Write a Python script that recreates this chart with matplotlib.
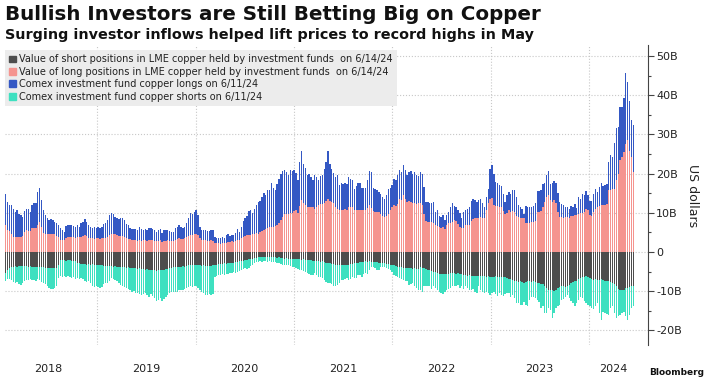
import matplotlib
matplotlib.use("Agg")
import matplotlib.pyplot as plt
from matplotlib.patches import Patch
from matplotlib.ticker import FuncFormatter, MultipleLocator
import numpy as np
import pandas as pd

# weekly readings, billions of US dollars (Jan 2018 - Jun 14 2024)
total_longs = [
    14.7, 12.8, 12.0, 12.0, 11.0, 10.3, 10.7, 9.8, 9.4, 9.0, 10.4, 11.1, 11.1, 10.3, 12.0, 12.5, 12.5, 15.3, 16.4, 13.2,
    10.7, 9.4, 8.6, 8.1, 8.3, 8.1, 7.7, 7.5, 6.9, 6.0, 5.6, 5.2, 6.6, 6.9, 7.0, 6.9, 6.6, 6.4, 6.9, 6.4,
    7.5, 7.7, 8.3, 7.7, 7.0, 6.4, 6.2, 6.4, 6.0, 6.3, 6.0, 6.3, 7.1,
    7.3, 8.1, 9.4, 10.0, 9.8, 9.0, 8.6, 8.3, 8.6, 8.7, 8.1, 7.1, 6.9, 6.0, 5.8, 5.8, 5.8, 5.6, 6.3, 5.8,
    5.7, 5.8, 5.6, 6.2, 6.0, 5.9, 5.6, 5.2, 5.6, 5.8, 4.9, 5.5, 5.6, 5.6, 5.4, 5.2, 5.2, 6.0, 6.4, 7.0,
    6.4, 6.0, 6.4, 7.3, 8.6, 10.0, 9.8, 10.3, 10.8, 9.4, 6.4, 5.6, 5.6, 5.6, 5.4, 5.3,
    5.6, 5.6, 3.9, 3.7, 3.5, 3.5, 3.9, 3.7, 4.3, 4.6, 4.1, 4.3, 4.3, 4.9, 5.8, 5.2, 6.4, 8.0, 8.8, 9.2,
    10.5, 10.8, 10.0, 11.1, 11.9, 12.8, 13.1, 14.1, 15.1, 14.5, 15.8, 15.8, 17.5, 16.4, 15.9, 17.3, 18.7, 20.0, 20.7, 20.8,
    20.4, 19.6, 21.0, 20.7, 20.8, 20.2, 18.5, 23.0, 25.8, 22.5, 21.5, 19.6, 19.8, 19.2, 18.3,
    19.6, 19.2, 18.3, 19.3, 19.6, 21.3, 23.0, 25.8, 22.5, 21.3, 20.2, 19.2, 19.6, 17.0, 17.5, 17.3, 17.5, 17.3, 19.2, 18.7,
    18.3, 16.2, 16.8, 17.5, 17.6, 16.4, 16.4, 16.4, 18.3, 20.7, 20.4, 16.4, 16.2, 15.9, 15.3, 14.7, 14.1, 13.4, 14.5, 16.2,
    16.4, 17.0, 18.7, 18.3, 19.6, 20.8, 20.4, 22.1, 21.0, 19.6, 20.4, 20.7, 20.0, 20.4, 19.6, 19.3,
    20.4, 20.0, 16.6, 12.8, 12.8, 12.4, 12.6, 12.8, 10.3, 10.7, 9.2, 9.0, 9.4, 8.1, 9.4, 10.3, 11.4, 12.5, 11.7, 11.4,
    10.7, 10.0, 8.8, 10.3, 10.7, 11.1, 11.4, 13.1, 13.6, 13.2, 12.8, 13.2, 13.6, 12.4, 11.5, 14.1, 16.2, 21.3, 22.1, 20.0,
    17.9, 17.5, 17.0, 16.8, 14.9, 12.8, 14.5, 15.3, 14.9, 15.8, 15.8, 14.1, 11.9, 11.5, 11.1, 9.8,
    11.7, 11.5, 11.5, 11.5, 11.8, 12.4, 15.6, 15.6, 15.9, 17.3, 17.6, 19.6, 20.7, 17.3, 17.6, 18.1, 17.6, 15.1, 12.8, 12.2,
    11.9, 11.5, 11.5, 11.1, 11.7, 11.5, 12.2, 11.3, 14.1, 13.6, 14.7, 14.5, 15.6, 14.5, 13.1, 13.0, 14.9, 16.2, 15.3, 16.6,
    17.6, 16.8, 17.0, 17.3, 23.0, 24.7, 24.2, 27.8, 31.7, 31.9, 36.9, 36.9, 39.3, 45.6, 43.3, 38.5, 33.7, 32.5,
]

lme_longs = [
    6.9, 5.6, 5.4, 4.6, 3.9, 3.9, 3.8, 3.9, 3.9, 4.0, 5.2, 5.5, 5.4, 5.3, 6.0, 6.1, 6.2, 6.8, 7.7, 6.4,
    4.9, 4.7, 4.6, 4.6, 4.5, 4.5, 4.5, 4.2, 3.8, 3.1, 3.0, 3.0, 3.7, 3.9, 3.8, 3.9, 3.8, 3.7, 3.9, 3.8,
    3.9, 4.0, 4.3, 4.1, 3.7, 3.5, 3.5, 3.4, 3.5, 3.5, 3.4, 3.5, 3.6,
    3.6, 3.9, 4.3, 4.6, 4.6, 4.5, 4.3, 4.2, 4.1, 4.0, 3.9, 3.6, 3.4, 3.2, 3.0, 3.0, 3.0, 2.9, 3.0, 2.9,
    3.0, 3.0, 2.9, 3.1, 3.0, 3.0, 2.9, 2.8, 2.9, 3.0, 2.6, 2.8, 2.9, 3.0, 2.9, 2.8, 2.8, 3.1, 3.4, 3.6,
    3.4, 3.3, 3.5, 3.8, 4.2, 4.4, 4.3, 4.5, 4.6, 4.3, 3.6, 3.1, 3.0, 3.0, 2.9, 2.9,
    3.0, 2.9, 2.3, 2.2, 2.2, 2.1, 2.3, 2.2, 2.4, 2.6, 2.5, 2.7, 2.6, 2.8, 3.0, 3.1, 3.5, 3.9, 4.2, 4.3,
    4.4, 4.3, 4.6, 4.7, 4.8, 4.7, 5.0, 5.4, 5.6, 5.8, 6.2, 6.4, 6.5, 6.4, 6.6, 6.9, 7.4, 8.1, 8.9, 9.6,
    9.8, 9.7, 9.9, 10.0, 10.5, 10.7, 10.0, 11.8, 13.2, 12.4, 11.9, 11.6, 11.5, 11.4, 11.5,
    11.1, 11.5, 11.9, 12.2, 12.3, 12.5, 13.1, 13.6, 12.9, 12.8, 12.6, 11.4, 10.9, 10.8, 10.7, 10.8, 10.9, 10.8, 11.5, 11.6,
    11.4, 10.8, 10.7, 10.6, 10.7, 10.6, 10.7, 10.8, 11.2, 11.9, 11.2, 10.4, 10.3, 10.2, 10.1, 9.6, 9.2, 9.0, 9.1, 9.8,
    10.6, 11.4, 11.9, 11.8, 12.2, 13.6, 13.2, 14.5, 13.4, 12.8, 12.9, 12.7, 12.5, 12.4, 12.3, 12.4,
    12.4, 11.9, 9.8, 7.8, 7.7, 7.6, 7.7, 7.5, 6.9, 6.6, 6.3, 6.2, 6.3, 5.8, 6.9, 7.3, 7.4, 7.6, 8.1, 8.0,
    7.2, 6.3, 6.0, 6.2, 6.8, 6.9, 7.0, 7.8, 8.3, 8.8, 8.7, 8.8, 8.9, 8.6, 8.6, 10.7, 12.6, 13.6, 13.8, 11.9,
    11.8, 11.7, 11.6, 11.5, 10.4, 9.8, 9.9, 10.7, 10.3, 10.4, 10.3, 9.3, 8.9, 8.8, 8.8, 8.7,
    7.3, 7.3, 7.5, 7.7, 7.7, 8.0, 10.2, 10.3, 10.4, 11.5, 12.8, 14.1, 14.5, 13.2, 12.8, 13.2, 12.4, 10.3, 9.0, 8.9,
    8.8, 8.9, 9.0, 8.8, 9.1, 9.2, 9.5, 9.4, 9.8, 9.9, 10.0, 10.3, 11.1, 10.7, 9.4, 9.2, 10.3, 11.1, 11.5, 11.7,
    11.9, 12.0, 12.1, 12.2, 15.8, 15.9, 16.0, 16.2, 18.3, 20.0, 23.4, 24.2, 25.5, 27.6, 28.5, 25.9, 24.2, 20.4,
]

lme_shorts = [
    -5.3, -4.6, -4.0, -3.8, -3.7, -3.6, -3.7, -3.6, -3.5, -3.6, -3.5, -3.6, -3.7, -3.6, -3.7, -3.8, -3.7, -3.8, -3.9, -3.8,
    -3.9, -4.0, -4.0, -4.1, -4.0, -4.1, -4.0, -4.1, -3.2, -2.1, -2.0, -2.1, -2.2, -2.1, -2.0, -2.2, -2.3, -2.4, -2.7, -2.8,
    -3.0, -3.0, -3.1, -3.2, -3.0, -3.2, -3.1, -3.3, -3.2, -3.3, -3.4, -3.3, -3.5,
    -3.5, -3.6, -3.5, -3.6, -3.7, -3.6, -3.8, -3.7, -3.8, -3.9, -3.9, -4.0, -3.9, -4.1, -4.0, -4.2, -4.1, -4.3, -4.2, -4.4,
    -4.3, -4.5, -4.4, -4.6, -4.5, -4.7, -4.6, -4.8, -4.6, -4.7, -4.5, -4.6, -4.4, -4.3, -4.2, -4.0, -3.9, -3.8, -3.7, -3.8,
    -3.7, -3.6, -3.7, -3.5, -3.4, -3.3, -3.4, -3.3, -3.2, -3.3, -3.4, -3.5, -3.4, -3.5, -3.6, -3.5,
    -3.5, -3.4, -3.3, -3.2, -3.1, -3.0, -3.0, -2.9, -3.0, -2.9, -2.8, -2.9, -2.7, -2.6, -2.5, -2.4, -2.3, -2.2, -2.1, -2.0,
    -1.9, -1.8, -1.7, -1.6, -1.5, -1.4, -1.3, -1.3, -1.2, -1.3, -1.2, -1.3, -1.4, -1.3, -1.4, -1.5, -1.4, -1.5, -1.6, -1.7,
    -1.6, -1.7, -1.8, -1.7, -1.8, -1.9, -1.8, -1.9, -2.0, -1.9, -2.0, -2.1, -2.0, -2.1, -2.2,
    -2.2, -2.3, -2.4, -2.5, -2.4, -2.6, -2.7, -2.8, -2.9, -3.0, -3.1, -3.2, -3.3, -3.2, -3.3, -3.4, -3.3, -3.2, -3.3, -3.1,
    -3.0, -2.9, -2.8, -2.7, -2.6, -2.6, -2.5, -2.4, -2.5, -2.4, -2.5, -2.6, -2.5, -2.6, -2.7, -2.8, -2.7, -2.9, -3.0, -3.1,
    -3.3, -3.2, -3.4, -3.5, -3.7, -3.8, -3.9, -4.0, -4.1, -4.2, -4.1, -4.2, -4.3, -4.2, -4.4, -4.3,
    -3.8, -4.0, -4.2, -4.3, -4.5, -4.6, -4.8, -5.0, -5.2, -5.3, -5.5, -5.6, -5.5, -5.7, -5.6, -5.5, -5.4, -5.3, -5.4, -5.5,
    -5.4, -5.6, -5.7, -5.8, -5.9, -6.0, -5.9, -6.0, -6.1, -6.0, -6.1, -6.0, -6.2, -6.1, -6.2, -6.3, -6.2, -6.3, -6.4, -6.3,
    -6.2, -6.3, -6.4, -6.3, -6.4, -6.5, -6.6, -6.8, -7.0, -7.2, -7.4, -7.5, -7.6, -7.5, -7.7, -7.8,
    -7.6, -7.5, -7.4, -7.6, -7.5, -7.7, -7.9, -8.0, -8.2, -8.1, -8.6, -9.2, -9.6, -9.8, -9.7, -9.9, -9.6, -9.3, -9.0, -8.8,
    -8.7, -8.9, -8.6, -8.3, -8.0, -7.6, -7.4, -7.3, -7.0, -6.7, -6.4, -6.3, -6.2, -6.4, -6.6, -6.9, -7.1, -7.0, -7.2, -7.1,
    -7.0, -7.2, -7.3, -7.4, -7.5, -7.6, -7.8, -8.2, -8.8, -9.4, -9.7, -9.8, -9.6, -9.3, -9.1, -8.9, -8.8, -8.7,
]

total_shorts = [
    -7.5, -7.0, -6.9, -7.2, -7.6, -8.0, -7.7, -8.1, -8.4, -8.0, -7.3, -7.1, -7.2, -7.0, -7.2, -7.1, -7.3, -7.0, -7.2, -7.6,
    -8.0, -8.2, -8.6, -9.2, -9.5, -9.4, -9.3, -8.8, -6.6, -6.2, -6.3, -6.1, -6.3, -6.2, -6.4, -6.6, -6.5, -6.8, -6.7, -6.9,
    -6.6, -7.0, -7.4, -7.6, -7.4, -8.0, -8.6, -8.9, -8.8, -9.0, -9.3, -9.0, -8.2,
    -8.0, -7.8, -7.3, -6.7, -6.9, -7.1, -7.5, -7.8, -8.3, -8.8, -9.0, -9.2, -9.5, -9.7, -10.1, -10.0, -10.5, -10.4, -10.7, -10.9,
    -10.6, -10.5, -11.0, -11.4, -10.7, -11.2, -11.8, -12.6, -12.2, -11.8, -12.6, -12.0, -11.4, -10.9, -10.5, -10.3, -10.1, -10.2, -10.1, -9.8,
    -9.7, -9.7, -9.5, -9.2, -9.0, -8.8, -8.9, -8.8, -8.8, -9.2, -9.7, -10.2, -10.5, -10.9, -10.9, -10.7,
    -10.9, -10.6, -6.3, -6.0, -5.8, -5.9, -5.7, -5.8, -5.6, -5.5, -5.4, -5.4, -5.2, -5.3, -5.0, -4.8, -4.7, -4.4, -4.2, -4.3,
    -4.1, -3.6, -3.2, -2.8, -2.6, -2.5, -2.4, -2.5, -2.3, -2.4, -2.5, -2.4, -2.6, -2.5, -2.6, -2.7, -2.9, -3.1, -3.3, -3.2,
    -3.4, -3.3, -3.5, -3.7, -3.9, -4.2, -4.4, -4.6, -4.5, -4.8, -5.1, -5.4, -5.6, -5.8, -5.9,
    -5.4, -5.9, -6.3, -6.5, -6.7, -7.1, -7.6, -8.0, -7.9, -8.1, -8.6, -8.8, -8.3, -8.0, -7.2, -7.1, -6.8, -6.7, -7.1, -6.9,
    -6.3, -6.6, -6.7, -5.9, -5.8, -6.3, -5.6, -5.4, -5.5, -4.6, -3.8, -3.7, -4.2, -4.5, -4.6, -3.8, -3.7, -3.8, -4.2, -4.4,
    -4.6, -5.2, -5.8, -6.1, -6.3, -6.7, -6.8, -7.1, -7.3, -7.5, -8.4, -8.1, -8.0, -8.8, -9.2, -9.7,
    -9.7, -10.1, -8.8, -8.8, -8.8, -8.8, -9.4, -8.8, -9.2, -9.7, -10.1, -10.4, -10.7, -10.1, -9.7, -9.5, -9.2, -8.8, -8.6, -8.8,
    -8.4, -9.2, -8.8, -9.5, -8.8, -9.2, -9.7, -9.8, -9.5, -10.1, -10.4, -8.8, -9.7, -10.1, -10.5, -10.1, -10.5, -10.9, -10.5, -10.3,
    -10.6, -11.2, -10.5, -10.9, -11.2, -10.6, -10.5, -10.5, -11.4, -10.9, -11.8, -13.1, -13.1, -13.5, -13.5, -12.7,
    -13.5, -13.9, -12.2, -11.4, -11.6, -11.8, -12.2, -12.8, -14.3, -13.9, -15.6, -15.6, -14.3, -14.7, -16.9, -15.6, -14.3, -13.9, -13.5, -12.2,
    -11.9, -11.4, -10.9, -11.8, -12.4, -13.1, -13.9, -13.1, -12.2, -11.4, -11.8, -12.4, -13.1, -13.5, -13.7, -14.3, -14.6, -13.9, -13.1, -15.6,
    -17.3, -15.2, -15.6, -15.8, -16.0, -14.3, -13.9, -15.6, -16.9, -16.4, -16.0, -15.6, -15.2, -16.4, -17.3, -16.0, -14.3, -13.9,
]

legend_labels = [
    "Value of short positions in LME copper held by investment funds  on 6/14/24",
    "Value of long positions in LME copper held by investment funds  on 6/14/24",
    "Comex investment fund copper longs on 6/11/24",
    "Comex investment fund copper shorts on 6/11/24",
]
year_labels = ["2018", "2019", "2020", "2021", "2022", "2023", "2024"]

col_lme_short = "#4d4d4d"
col_lme_long = "#f5948f"
col_comex_long = "#3458c4"
col_comex_short = "#3ee0c0"

dates = pd.date_range(end="2024-06-14", periods=len(total_longs), freq="7D")
lme_long = np.array(lme_longs)
comex_long = np.array(total_longs) - lme_long
lme_short = np.array(lme_shorts)
comex_short = np.array(total_shorts) - lme_short

fig = plt.figure(figsize=(7.08, 3.79), dpi=100)
ax = fig.add_axes([0.007, 0.09, 0.908, 0.79])

w = 5.0
ax.bar(dates, lme_long, width=w, color=col_lme_long, linewidth=0)
ax.bar(dates, comex_long, bottom=lme_long, width=w, color=col_comex_long, linewidth=0)
ax.bar(dates, lme_short, width=w, color=col_lme_short, linewidth=0)
ax.bar(dates, comex_short, bottom=lme_short, width=w, color=col_comex_short, linewidth=0)

ax.set_xlim(pd.Timestamp("2018-01-23"), pd.Timestamp("2024-08-07"))
ax.set_ylim(-23.7, 52.7)

# y axis on the right
ax.yaxis.tick_right()
ax.yaxis.set_label_position("right")
ax.yaxis.set_major_locator(MultipleLocator(10))
ax.yaxis.set_minor_locator(MultipleLocator(5))
ax.yaxis.set_major_formatter(FuncFormatter(lambda v, p: "0" if v == 0 else f"{v:.0f}B"))
ax.tick_params(axis="y", which="major", length=4, width=0.8, color="#444444",
               labelsize=8, labelcolor="#222222", pad=2)
ax.tick_params(axis="y", which="minor", length=2, width=0.8, color="#444444")
ax.set_ylabel("US dollars", fontsize=9, rotation=-90, labelpad=12, color="#222222")

# year labels in the middle of each year, gridlines at year starts
years = [int(y) for y in year_labels]
label_pos = [pd.Timestamp(f"{y}-07-01") for y in years[:-1]] + [pd.Timestamp("2024-04-01")]
ax.set_xticks(label_pos)
ax.set_xticklabels(year_labels)
ax.set_xticks([pd.Timestamp(f"{y}-01-01") for y in years[1:]], minor=True)
ax.tick_params(axis="x", which="both", length=0, labelsize=8, labelcolor="#222222", pad=14)

ax.grid(axis="y", which="major", linestyle=":", color="#c8c8c8", linewidth=0.8)
ax.grid(axis="x", which="minor", linestyle=":", color="#c8c8c8", linewidth=0.8)
ax.grid(axis="x", which="major", visible=False)
ax.set_axisbelow(True)

for s in ["top", "left", "bottom"]:
    ax.spines[s].set_visible(False)
ax.spines["right"].set_color("#444444")
ax.spines["right"].set_linewidth(0.8)

handles = [Patch(color=c) for c in [col_lme_short, col_lme_long, col_comex_long, col_comex_short]]
leg = ax.legend(handles, legend_labels, loc="upper left", bbox_to_anchor=(0.0, 0.985),
                borderaxespad=0, fontsize=7.0, frameon=True, fancybox=False,
                facecolor="#ececec", edgecolor="none", framealpha=1,
                handlelength=0.7, handleheight=0.7, handletextpad=0.3,
                labelspacing=0.25, borderpad=0.45)
for t in leg.get_texts():
    t.set_color("#222222")

fig.text(0.007, 0.962, "Bullish Investors are Still Betting Big on Copper",
         fontsize=14.3, fontweight="bold", va="center", ha="left", color="#111111")
fig.text(0.007, 0.908, "Surging investor inflows helped lift prices to record highs in May",
         fontsize=10.4, fontweight="bold", va="center", ha="left", color="#111111")
# source mark, pushed into the bottom-right corner so it stays inside the frame
fig.text(0.995, 0.004, "Bloomberg", fontsize=6.5, fontweight="bold", va="bottom", ha="right",
         color="#111111")

fig.savefig("out.png", dpi=100)
